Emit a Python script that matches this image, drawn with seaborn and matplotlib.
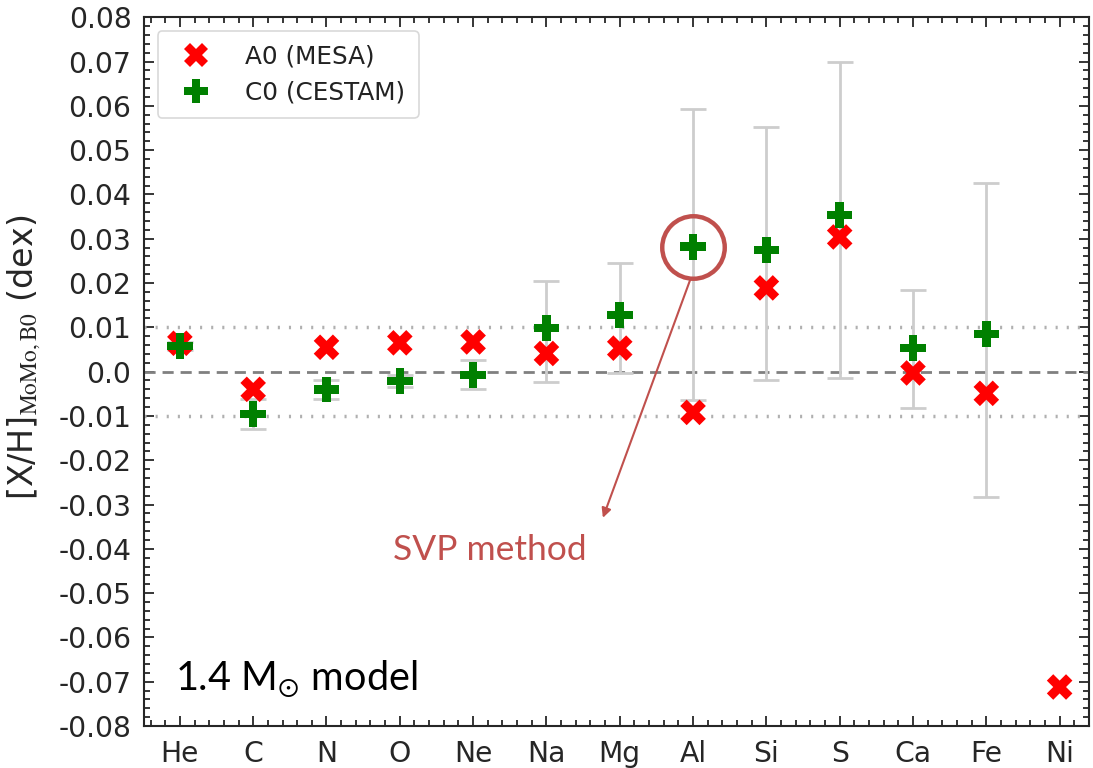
import numpy as np
import pandas as pd
import matplotlib
matplotlib.use("Agg")
import matplotlib.pyplot as plt
from matplotlib.lines import Line2D
import seaborn as sns

# Surface abundance differences relative to the B0 reference model
elements = ["He", "C", "N", "O", "Ne", "Na", "Mg", "Al", "Si", "S", "Ca", "Fe", "Ni"]
a0_mesa = [0.0064, -0.0040, 0.0055, 0.0065, 0.0067, 0.0041, 0.0053, -0.0092,
           0.0189, 0.0304, -0.0003, -0.0049, -0.0712]
c0_cestam = [0.0058, -0.0096, -0.0040, -0.0021, -0.0008, 0.0098, 0.0128, 0.0282,
             0.0275, 0.0354, 0.0053, 0.0085, np.nan]
# lower / upper ends of the C0 uncertainty bars
c0_low = [0.0048, -0.0130, -0.0062, -0.0035, -0.0040, -0.0023, -0.0002, -0.0064,
          -0.0019, -0.0015, -0.0081, -0.0283, np.nan]
c0_high = [0.0068, -0.0062, -0.0018, -0.0007, 0.0026, 0.0205, 0.0245, 0.0594,
           0.0553, 0.0700, 0.0184, 0.0425, np.nan]

series_names = ["A0 (MESA)", "C0 (CESTAM)"]

sns.set_style("ticks")
plt.rcParams["font.family"] = ["DejaVu Sans"]
plt.rcParams["mathtext.fontset"] = "stix"

x = np.arange(len(elements))
df = pd.DataFrame({
    "pos": np.concatenate([x, x]),
    "val": np.concatenate([a0_mesa, c0_cestam]),
    "model": [series_names[0]] * len(x) + [series_names[1]] * len(x),
}).dropna()

fig = plt.figure(figsize=(10.93, 7.68), dpi=100)
ax = fig.add_axes([0.1317, 0.0547, 0.8646, 0.9228])

# reference lines
ax.axhline(0.0, color="#808080", lw=2, ls=(0, (4, 2.5)), zorder=1)
for yv in (0.01, -0.01):
    ax.axhline(yv, color="#b0b0b0", lw=2.5, ls=(0, (0.6, 2.6)), zorder=1)

# uncertainty bars on C0
c0 = np.array(c0_cestam)
err = np.vstack([c0 - np.array(c0_low), np.array(c0_high) - c0])
ax.errorbar(x, c0, yerr=err, fmt="none", ecolor="#cdcdcd", elinewidth=2,
            capsize=9.5, capthick=2, zorder=2)

sns.scatterplot(data=df, x="pos", y="val", hue="model", style="model",
                palette={series_names[0]: "#ff0000", series_names[1]: "#008000"},
                markers={series_names[0]: "X", series_names[1]: "P"},
                s=340, linewidth=0, ax=ax, zorder=3, legend=False)

ax.set_xlim(-0.49, 12.4)
ax.set_ylim(-0.08, 0.08)
ax.set_xticks(x)
ax.set_xticklabels(elements)
ax.set_yticks(np.round(np.arange(-0.08, 0.0801, 0.01), 2))
ax.yaxis.set_major_formatter(matplotlib.ticker.FuncFormatter(
    lambda v, p: f"{v:.2f}" if abs(v) > 1e-9 else "0.0"))
ax.xaxis.set_minor_locator(matplotlib.ticker.MultipleLocator(0.2))
ax.yaxis.set_minor_locator(matplotlib.ticker.MultipleLocator(0.002))
ax.tick_params(which="both", direction="in", top=True, right=True, labelsize=20.3, width=1.3)
ax.tick_params(axis="y", which="major", length=7, pad=9)
ax.tick_params(axis="x", which="major", length=7, pad=10)
ax.tick_params(which="minor", length=4)
for sp in ax.spines.values():
    sp.set_linewidth(1.5)
ax.set_xlabel("")
ax.set_ylabel(r"[X/H]$_{\rm MoMo,B0}$ (dex)", fontsize=24)
ax.yaxis.set_label_coords(-0.107, 0.52)

# legend
handles = [
    Line2D([], [], ls="none", marker="X", ms=17, color="#ff0000", mew=0),
    Line2D([], [], ls="none", marker="P", ms=17, color="#008000", mew=0),
]
leg = ax.legend(handles, series_names, loc="upper left", fontsize=17.8,
                frameon=True, fancybox=True, handletextpad=1.0, labelspacing=0.5,
                borderpad=0.55, borderaxespad=0.55)
leg.get_frame().set_edgecolor("#d0d0d0")
leg.get_frame().set_linewidth(1.2)
for t in leg.get_texts():
    t.set_color("#222222")

# model label
ax.text(-0.07, -0.0719, r"1.4 M$_{\odot}$ model", fontsize=28.5, family="Lato",
        va="baseline", ha="left", color="black")

# highlight of the Al point and its note
accent = "#c0504d"
ax.plot([7], [c0_cestam[7]], marker="o", ms=45, mfc="none", mec=accent, mew=3.2, zorder=4)
ax.annotate("", xy=(5.77, -0.0330), xytext=(6.96, 0.0207),
            arrowprops=dict(arrowstyle="-|>", color=accent, lw=1.5,
                            mutation_scale=14, shrinkA=0, shrinkB=0), zorder=4)
ax.text(4.23, -0.0403, "SVP method", fontsize=25.5, family="Lato", color=accent,
        ha="center", va="center")

fig.savefig("out.png", dpi=100)
